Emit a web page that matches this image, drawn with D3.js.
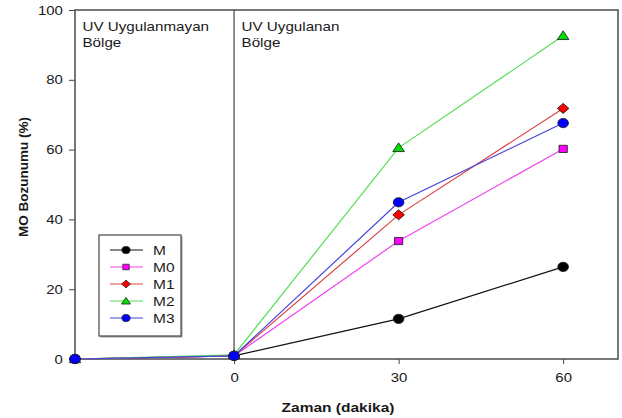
<!DOCTYPE html>
<html>
<head>
<meta charset="utf-8">
<script src="https://cdn.jsdelivr.net/npm/d3@7"></script>
<style>
  body { margin: 0; background: #fff; }
  svg { display: block; font-family: Arial, "Liberation Sans", sans-serif; }
</style>
</head>
<body>
<svg id="chart" width="622" height="418"></svg>
<script>
// Time points (minutes); the first point is the pre-UV sample
const times = [-29, 0, 30, 60];
const xTicks = [0, 30, 60];
const yTicks = [0, 20, 40, 60, 80, 100];

// MO degradation (%) per sample
const seriesNames = ["M", "M0", "M1", "M2", "M3"];
const valuesM  = [0, 0.9, 11.5, 26.4];
const valuesM0 = [0, 0.9, 33.8, 60.2];
const valuesM1 = [0, 0.9, 41.3, 71.8];
const valuesM2 = [0, 1.2, 60.5, 92.6];
const valuesM3 = [0, 0.9, 44.9, 67.6];

const lineColors   = ["#111111", "#ee44ee", "#dd4444", "#55dd55", "#4444dd"];
const markerFills  = ["#000000", "#ff00ff", "#ff0000", "#00dd00", "#0000ff"];
const markerShapes = ["circle", "square", "diamond", "triangle", "circle"];

// Slightly wide aspect used for glyphs and markers
const SX = 1.15;

function symbolPath(shape, k) {
  if (shape === "circle") return d3.symbol(d3.symbolCircle, 68 * k)();
  if (shape === "square") return d3.symbol(d3.symbolSquare, 52 * k)();
  if (shape === "diamond") return d3.symbol(d3.symbolSquare, 50 * k)();
  return d3.symbol(d3.symbolTriangle, 44 * k)();
}
function symbolTransform(shape, px, py) {
  const rot = shape === "diamond" ? " rotate(45)" : "";
  const shift = shape === "triangle" ? " translate(0,0.8)" : "";
  return `translate(${px},${py}) scale(${SX},1)${shift}${rot}`;
}

const series = seriesNames.map((name, i) => ({
  name,
  values: [valuesM, valuesM0, valuesM1, valuesM2, valuesM3][i],
  line: lineColors[i],
  fill: markerFills[i],
  shape: markerShapes[i]
}));

const svg = d3.select("#chart");
const plotLeft = 75, plotRight = 618, plotTop = 10, plotBottom = 359;

const x = d3.scaleLinear().domain([-29, 70]).range([plotLeft, plotRight]);
const y = d3.scaleLinear().domain([0, 100]).range([plotBottom, plotTop]);

function label(px, py, str, opts = {}) {
  const g = svg.append("g").attr("transform", `translate(${px},${py}) scale(${SX},1)`);
  return g.append("text")
    .attr("font-size", opts.size || 13)
    .attr("font-weight", opts.weight || "normal")
    .attr("text-anchor", opts.anchor || "start")
    .attr("fill", "#1a1a1a")
    .text(str);
}

// Y axis
const yAxis = svg.append("g")
  .attr("transform", `translate(${plotLeft},0)`)
  .call(d3.axisLeft(y).tickValues(yTicks).tickSize(6).tickPadding(4.5));
// X axis
const xAxis = svg.append("g")
  .attr("transform", `translate(0,${plotBottom})`)
  .call(d3.axisBottom(x).tickValues(xTicks).tickSize(5).tickPadding(9));

[yAxis, xAxis].forEach(g => {
  g.select(".domain").remove();
  g.selectAll("line").attr("stroke", "#444").attr("stroke-width", 1);
  g.selectAll("text").attr("font-size", 13).attr("fill", "#1a1a1a")
    .attr("font-family", "Arial, 'Liberation Sans', sans-serif")
    .attr("transform", `scale(${SX},1)`);
});

// Plot frame
svg.append("rect")
  .attr("x", plotLeft).attr("y", plotTop)
  .attr("width", plotRight - plotLeft).attr("height", plotBottom - plotTop)
  .attr("fill", "none").attr("stroke", "#555").attr("stroke-width", 1.6);

// Divider between regions at t = 0
svg.append("line")
  .attr("x1", x(0)).attr("x2", x(0))
  .attr("y1", plotTop).attr("y2", plotBottom)
  .attr("stroke", "#444").attr("stroke-width", 1.2);

// Region labels
const regionLabels = [
  { at: -29, lines: ["UV Uygulanmayan", "Bölge"] },
  { at: 0, lines: ["UV Uygulanan", "Bölge"] }
];
regionLabels.forEach(r => {
  r.lines.forEach((s, i) => label(x(r.at) + 7.5, 31 + i * 16, s, { size: 13.2 }));
});

// Series lines and markers
const line = d3.line().x((d, i) => x(times[i])).y(d => y(d));
series.forEach(s => {
  svg.append("path")
    .datum(s.values)
    .attr("fill", "none")
    .attr("stroke", s.line)
    .attr("stroke-width", 1.2)
    .attr("d", line);
});
series.forEach(s => {
  svg.selectAll(null)
    .data(s.values)
    .join("path")
    .attr("transform", (d, i) => symbolTransform(s.shape, x(times[i]), y(d)))
    .attr("d", symbolPath(s.shape, 1))
    .attr("fill", s.fill)
    .attr("stroke", "#222")
    .attr("stroke-width", 0.8);
});

// Legend
const lg = svg.append("g");
lg.append("rect")
  .attr("x", 100.5).attr("y", 236.5).attr("width", 82).attr("height", 101)
  .attr("fill", "#999");
lg.append("rect")
  .attr("x", 99).attr("y", 235).attr("width", 82).attr("height", 101)
  .attr("fill", "#fff").attr("stroke", "#555").attr("stroke-width", 1.3);
series.forEach((s, i) => {
  const yy = 250 + i * 17;
  lg.append("line")
    .attr("x1", 110).attr("x2", 143).attr("y1", yy).attr("y2", yy)
    .attr("stroke", s.line).attr("stroke-width", 1.2);
  lg.append("path")
    .attr("transform", symbolTransform(s.shape, 126, yy))
    .attr("d", symbolPath(s.shape, 0.6))
    .attr("fill", s.fill).attr("stroke", "#222").attr("stroke-width", 0.7);
  label(153, yy + 5, s.name, { size: 13.5 });
});

// Axis titles
label(338, 412, "Zaman (dakika)", { size: 13.5, weight: "bold", anchor: "middle" });
svg.append("text")
  .attr("transform", `translate(28,177) rotate(-90)`)
  .attr("text-anchor", "middle")
  .attr("font-size", 13.5).attr("font-weight", "bold").attr("fill", "#1a1a1a")
  .text("MO Bozunumu (%)");
</script>
</body>
</html>
